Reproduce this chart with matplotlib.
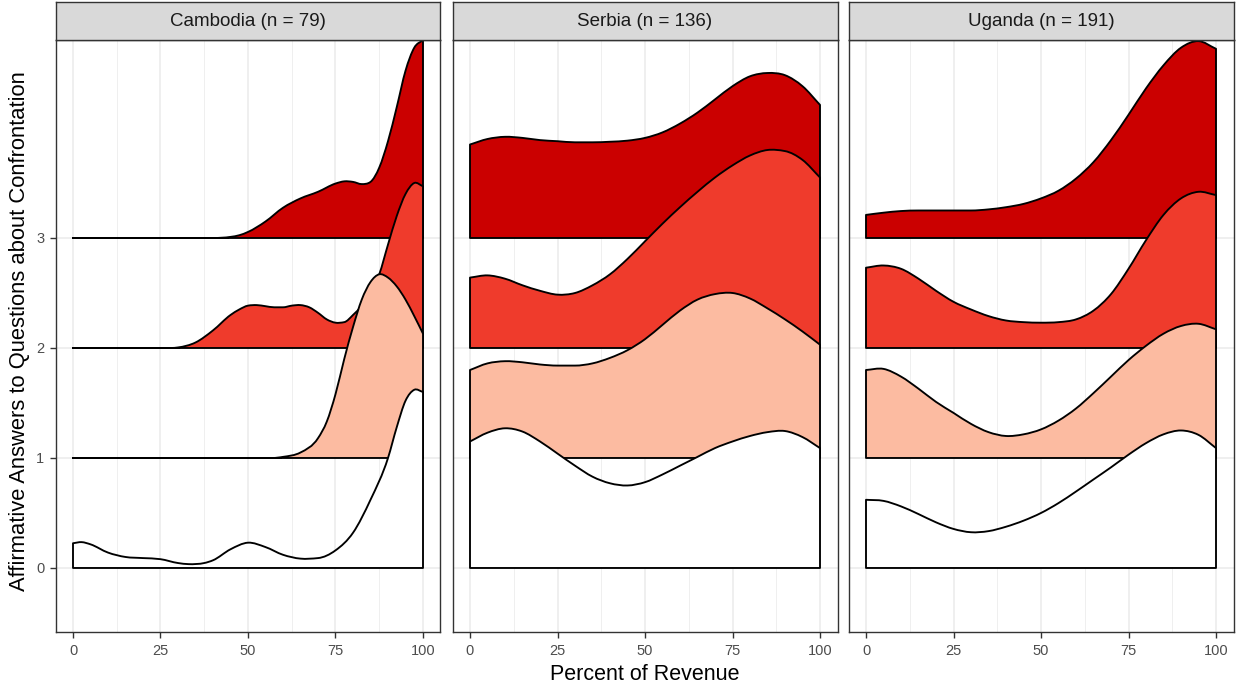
import matplotlib
matplotlib.use("Agg")
import matplotlib.pyplot as plt
from matplotlib.path import Path
from matplotlib.patches import PathPatch
import numpy as np

plt.rcParams['font.family'] = ['Liberation Sans', 'DejaVu Sans']

# ---------------- data ----------------
countries = ["Cambodia", "Serbia", "Uganda"]
counts = [79, 136, 191]
levels = [0, 1, 2, 3]
fill_colors = ["#FFFFFF", "#FCBBA1", "#EF3B2C", "#CB0000"]
x_ticks = [0, 25, 50, 75, 100]
y_ticks = [0, 1, 2, 3]
x_title = "Percent of Revenue"
y_title = "Affirmative Answers to Questions about Confrontation"

# Cambodia ridges (scaled density heights)
cam0_x = [0, 2.5, 5, 10, 15, 20, 25, 30, 33, 37.5, 40, 45, 50, 55, 60, 65, 70, 75, 80, 85, 90, 92.5, 95, 97.5, 100]
cam0_h = [0.225, 0.235, 0.215, 0.14, 0.10, 0.09, 0.08, 0.045, 0.035, 0.045, 0.07, 0.17, 0.23, 0.19, 0.12, 0.085, 0.09, 0.16, 0.32, 0.62, 1.00, 1.28, 1.52, 1.62, 1.60]
cam1_x = [0, 57, 60, 65, 70, 72.5, 75, 77.5, 80, 82.5, 85, 87.5, 90, 92.5, 95, 97.5, 100]
cam1_h = [0, 0, 0.01, 0.05, 0.18, 0.33, 0.58, 0.90, 1.19, 1.44, 1.60, 1.67, 1.64, 1.56, 1.44, 1.29, 1.13]
cam2_x = [0, 28, 30, 35, 40, 45, 47.5, 50, 52.5, 55, 57.5, 60, 62.5, 65, 67.5, 70, 72.5, 75, 77.5, 80, 85, 87.5, 90, 92.5, 95, 97.5, 100]
cam2_h = [0, 0, 0.005, 0.05, 0.16, 0.30, 0.35, 0.385, 0.39, 0.38, 0.37, 0.37, 0.385, 0.39, 0.37, 0.32, 0.26, 0.23, 0.235, 0.30, 0.50, 0.67, 0.94, 1.20, 1.40, 1.50, 1.47]
cam3_x = [0, 40, 45, 47.5, 50, 55, 60, 65, 70, 75, 77.5, 80, 82.5, 85, 87.5, 90, 92.5, 95, 97.5, 100]
cam3_h = [0, 0, 0.01, 0.025, 0.055, 0.15, 0.275, 0.36, 0.42, 0.495, 0.515, 0.51, 0.49, 0.51, 0.64, 0.88, 1.19, 1.52, 1.73, 1.80]

# Serbia ridges
srb_x = [0, 5, 10, 15, 20, 25, 30, 35, 40, 45, 50, 55, 60, 65, 70, 75, 80, 85, 90, 95, 100]
srb0_h = [1.15, 1.23, 1.27, 1.24, 1.15, 1.04, 0.93, 0.83, 0.77, 0.75, 0.78, 0.85, 0.93, 1.01, 1.09, 1.15, 1.20, 1.235, 1.245, 1.19, 1.09]
srb1_h = [0.80, 0.86, 0.88, 0.87, 0.85, 0.84, 0.84, 0.86, 0.91, 0.98, 1.08, 1.21, 1.34, 1.44, 1.49, 1.50, 1.45, 1.36, 1.26, 1.15, 1.03]
srb2_h = [0.64, 0.66, 0.63, 0.57, 0.52, 0.485, 0.50, 0.57, 0.67, 0.81, 0.97, 1.13, 1.28, 1.42, 1.55, 1.66, 1.75, 1.80, 1.79, 1.71, 1.55]
srb3_h = [0.85, 0.90, 0.92, 0.91, 0.89, 0.88, 0.87, 0.87, 0.875, 0.885, 0.91, 0.96, 1.04, 1.14, 1.26, 1.38, 1.47, 1.50, 1.48, 1.38, 1.21]

# Uganda ridges
uga_x = [0, 5, 10, 15, 20, 25, 30, 35, 40, 45, 50, 55, 60, 65, 70, 75, 80, 85, 90, 95, 100]
uga0_h = [0.62, 0.61, 0.56, 0.49, 0.415, 0.355, 0.325, 0.335, 0.375, 0.43, 0.50, 0.59, 0.695, 0.805, 0.915, 1.03, 1.135, 1.215, 1.25, 1.21, 1.09]
uga1_h = [0.80, 0.81, 0.74, 0.63, 0.51, 0.41, 0.31, 0.235, 0.20, 0.215, 0.26, 0.34, 0.45, 0.59, 0.74, 0.89, 1.02, 1.13, 1.20, 1.22, 1.17]
uga2_h = [0.73, 0.75, 0.72, 0.63, 0.52, 0.42, 0.35, 0.29, 0.25, 0.235, 0.23, 0.235, 0.26, 0.34, 0.49, 0.72, 0.98, 1.21, 1.36, 1.42, 1.39]
uga3_h = [0.21, 0.23, 0.245, 0.25, 0.25, 0.25, 0.25, 0.26, 0.28, 0.31, 0.36, 0.43, 0.54, 0.69, 0.89, 1.12, 1.36, 1.57, 1.73, 1.79, 1.72]

ridges = {
    "Cambodia": [(cam0_x, cam0_h), (cam1_x, cam1_h), (cam2_x, cam2_h), (cam3_x, cam3_h)],
    "Serbia": [(srb_x, srb0_h), (srb_x, srb1_h), (srb_x, srb2_h), (srb_x, srb3_h)],
    "Uganda": [(uga_x, uga0_h), (uga_x, uga1_h), (uga_x, uga2_h), (uga_x, uga3_h)],
}


def tangents(xs, ys):
    """Smooth tangents (weighted central differences), held flat next to flat runs
    and limited on monotone stretches so the curve does not overshoot."""
    n = len(xs)
    h = np.diff(xs)
    s = np.diff(ys) / h
    m = np.zeros(n)
    for i in range(1, n - 1):
        if s[i - 1] == 0 or s[i] == 0:
            m[i] = 0.0
            continue
        m[i] = (s[i - 1] * h[i] + s[i] * h[i - 1]) / (h[i - 1] + h[i])
        if s[i - 1] * s[i] > 0:
            lim = 3 * min(abs(s[i - 1]), abs(s[i]))
            m[i] = np.sign(m[i]) * min(abs(m[i]), lim)
    m[0] = s[0]
    m[-1] = s[-1]
    return m


def ridge_path(xs, hs, base):
    """Closed ridge outline drawn with cubic Bezier segments through the read points."""
    xs = np.asarray(xs, float)
    ys = np.asarray(hs, float) + base
    m = tangents(xs, ys)
    verts = [(xs[0], base), (xs[0], ys[0])]
    codes = [Path.MOVETO, Path.LINETO]
    for i in range(len(xs) - 1):
        dx = xs[i + 1] - xs[i]
        verts += [(xs[i] + dx / 3, ys[i] + m[i] * dx / 3),
                  (xs[i + 1] - dx / 3, ys[i + 1] - m[i + 1] * dx / 3),
                  (xs[i + 1], ys[i + 1])]
        codes += [Path.CURVE4] * 3
    verts += [(xs[-1], base), (xs[0], base)]
    codes += [Path.LINETO, Path.CLOSEPOLY]
    return Path(verts, codes)


# ---------------- figure ----------------
W, H = 1236, 689
fig = plt.figure(figsize=(W / 100, H / 100), dpi=100)

panel_lefts = [55.5, 452.5, 848.5]
panel_w = 385
panel_top = 40
panel_bot = 632
strip_top = 2

border_col = "#333333"
grid_col = "#EBEBEB"

for k, (country, n) in enumerate(zip(countries, counts)):
    left = panel_lefts[k]
    ax = fig.add_axes([left / W, (H - panel_bot) / H, panel_w / W, (panel_bot - panel_top) / H])
    ax.set_xlim(-5, 105)
    ax.set_ylim(-0.582, 4.8)
    ax.set_xticks(x_ticks)
    ax.set_xticks([12.5, 37.5, 62.5, 87.5], minor=True)
    ax.set_yticks(y_ticks)
    ax.grid(which="major", color=grid_col, lw=1.1, zorder=0)
    ax.grid(which="minor", axis="x", color=grid_col, lw=0.55, zorder=0)
    ax.set_axisbelow(True)
    ax.tick_params(which="minor", length=0)
    ax.tick_params(which="major", length=4, width=1.0, color=border_col,
                   labelsize=10.5, labelcolor="#4D4D4D")
    ax.tick_params(axis="x", pad=4.5)
    ax.tick_params(axis="y", pad=4)
    if k > 0:
        ax.tick_params(axis="y", left=False, labelleft=False)
    for sp in ax.spines.values():
        sp.set_color(border_col)
        sp.set_linewidth(1.0)
        sp.set_zorder(20)

    # draw from top ridge down so lower ridges overlap upper ones
    for lvl in reversed(levels):
        xs, hs = ridges[country][lvl]
        p = PathPatch(ridge_path(xs, hs, lvl), facecolor=fill_colors[lvl],
                      edgecolor="black", lw=1.35, joinstyle="round", zorder=3 + (3 - lvl))
        ax.add_patch(p)

    # facet strip
    sax = fig.add_axes([left / W, (H - panel_top) / H, panel_w / W, (panel_top - strip_top) / H])
    sax.set_facecolor("#D9D9D9")
    sax.set_xticks([])
    sax.set_yticks([])
    for sp in sax.spines.values():
        sp.set_color(border_col)
        sp.set_linewidth(1.0)
    sax.text(0.5, 0.5, f"{country} (n = {n})", ha="center", va="center",
             fontsize=13.5, color="#1A1A1A", transform=sax.transAxes)

fig.text((panel_lefts[0] + panel_lefts[2] + panel_w) / 2 / W, 1 - 675 / H, x_title,
         ha="center", va="center", fontsize=15.5, color="black")
fig.text(20 / W, 1 - 331 / H, y_title, ha="center", va="center", rotation=90,
         fontsize=15.8, color="black")

fig.savefig("out.png", dpi=100)
